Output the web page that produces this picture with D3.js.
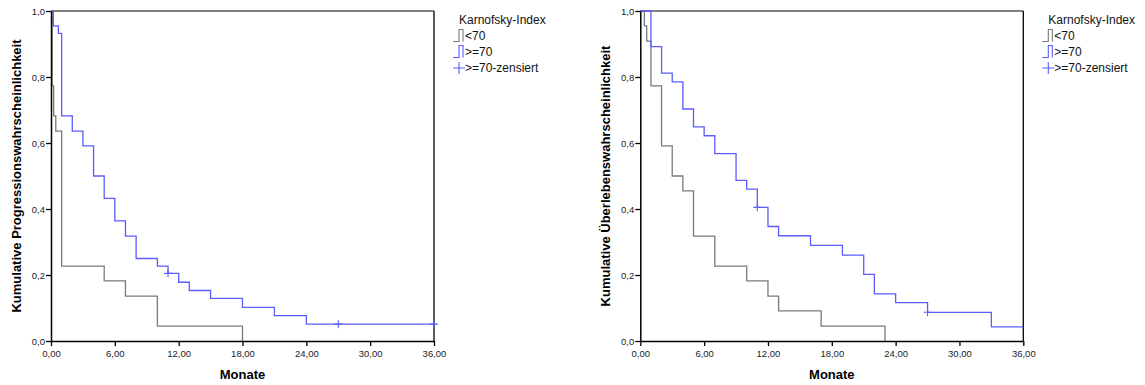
<!DOCTYPE html>
<html>
<head>
<meta charset="utf-8">
<script src="https://cdn.jsdelivr.net/npm/d3@7"></script>
<style>
  html, body { margin: 0; padding: 0; background: #fff; }
  svg { display: block; font-family: "Liberation Sans", Arial, Helvetica, sans-serif; }
</style>
</head>
<body>
<svg id="chart" width="1145" height="385"></svg>
<script>
// Kaplan-Meier step curves: event times (months) and survival after each step.
const progLowTimes   = [0.1, 0.25, 0.45, 1.0, 5.0, 7.0, 10.0, 18.0];
const progLowValues  = [0.773, 0.682, 0.636, 0.227, 0.182, 0.136, 0.045, 0.0];
const progLowEnd     = 18.0;

const progHighTimes  = [0.22, 0.69, 1.0, 2.0, 3.0, 4.0, 5.0, 6.0, 7.0, 8.0, 10.0, 11.0, 12.0, 13.0, 15.0, 18.0, 21.0, 24.0];
const progHighValues = [0.955, 0.932, 0.682, 0.636, 0.591, 0.5, 0.432, 0.364, 0.318, 0.25, 0.227, 0.205, 0.178, 0.153, 0.129, 0.102, 0.077, 0.051];
const progHighEnd    = 36.0;
const progCensorTimes  = [11.0, 27.0, 36.0];
const progCensorValues = [0.205, 0.051, 0.051];

const survLowTimes   = [0.38, 0.6, 1.0, 2.0, 3.0, 4.0, 5.0, 7.0, 10.0, 12.0, 13.0, 17.0, 23.0];
const survLowValues  = [0.955, 0.909, 0.773, 0.591, 0.5, 0.455, 0.318, 0.227, 0.182, 0.136, 0.091, 0.045, 0.0];
const survLowEnd     = 23.0;

const survHighTimes  = [1.0, 2.0, 3.0, 4.0, 5.0, 6.0, 7.0, 9.0, 10.0, 11.0, 12.0, 13.0, 16.0, 19.0, 21.0, 22.0, 24.0, 27.0, 33.0];
const survHighValues = [0.892, 0.812, 0.785, 0.703, 0.649, 0.622, 0.568, 0.487, 0.46, 0.405, 0.347, 0.319, 0.29, 0.26, 0.202, 0.143, 0.116, 0.087, 0.043];
const survHighEnd    = 36.0;
const survCensorTimes  = [11.0, 27.0];
const survCensorValues = [0.405, 0.087];

const xTicks = [0, 6, 12, 18, 24, 30, 36];
const yTicks = [0, 0.2, 0.4, 0.6, 0.8, 1.0];
const legendTitle = "Karnofsky-Index";
const legendLabels = ["<70", ">=70", ">=70-zensiert"];
const xTitle = "Monate";
const yTitles = ["Kumulative Progressionswahrscheinlichkeit", "Kumulative Überlebenswahrscheinlichkeit"];

const COLOR_LOW = "#7a7a7a";
const COLOR_HIGH = "#5c5cff";

const svg = d3.select("#chart");
const fmtX = d => d3.format(".2f")(d).replace(".", ",");
const fmtY = d => d3.format(".1f")(d).replace(".", ",");

function stepPoints(times, values, end) {
  const pts = [[0, 1]];
  let cur = 1;
  times.forEach((t, i) => { pts.push([t, cur]); cur = values[i]; pts.push([t, cur]); });
  if (end > times[times.length - 1]) pts.push([end, cur]);
  return pts;
}

function panel(opts) {
  const g = svg.append("g").attr("transform", `translate(${opts.left},0)`);
  const w = 383, top = 11, bottom = 341;
  const x = d3.scaleLinear().domain([0, 36]).range([0, w]);
  const y = d3.scaleLinear().domain([0, 1]).range([bottom, top]);

  // frame: grey top edge, black right edge
  g.append("line").attr("x1", 0).attr("x2", w).attr("y1", top).attr("y2", top)
    .attr("stroke", "#808080").attr("stroke-width", 2);
  g.append("line").attr("x1", w).attr("x2", w).attr("y1", top).attr("y2", bottom)
    .attr("stroke", "#000").attr("stroke-width", 1.3);

  const line = d3.line().x(d => x(d[0])).y(d => y(d[1]));
  g.append("path").datum(stepPoints(opts.lowT, opts.lowV, opts.lowEnd))
    .attr("d", line).attr("fill", "none").attr("stroke", COLOR_LOW).attr("stroke-width", 1.3);
  g.append("path").datum(stepPoints(opts.highT, opts.highV, opts.highEnd))
    .attr("d", line).attr("fill", "none").attr("stroke", COLOR_HIGH).attr("stroke-width", 1.3);

  // censored observations
  const cz = opts.censT.map((t, i) => [t, opts.censV[i]]);
  g.selectAll(".cens").data(cz).enter().append("path")
    .attr("d", d => `M${x(d[0]) - 4},${y(d[1])}H${x(d[0]) + 4}M${x(d[0])},${y(d[1]) - 4}V${y(d[1]) + 4}`)
    .attr("stroke", COLOR_HIGH).attr("stroke-width", 1.1).attr("fill", "none");

  // axes
  const xa = g.append("g").attr("transform", `translate(0,${bottom})`)
    .call(d3.axisBottom(x).tickValues(xTicks).tickFormat(fmtX).tickSize(5).tickSizeOuter(0));
  const ya = g.append("g")
    .call(d3.axisLeft(y).tickValues(yTicks).tickFormat(fmtY).tickSize(5).tickSizeOuter(0));
  [xa, ya].forEach(a => {
    a.select(".domain").attr("stroke", "#000").attr("stroke-width", 1.5);
    a.selectAll(".tick line").attr("stroke", "#000").attr("stroke-width", 1.3);
    a.selectAll(".tick text").attr("fill", "#222").style("font-size", "9.5px")
      .style("font-family", "'Liberation Sans', Arial, sans-serif");
  });
  xa.selectAll(".tick text").attr("dy", "0.71em").attr("y", 9);
  ya.selectAll(".tick text").attr("x", -6);

  g.append("text").attr("x", w / 2).attr("y", 379).attr("text-anchor", "middle")
    .style("font-size", "13px").style("font-weight", "bold").text(xTitle);
  g.append("text").attr("transform", `translate(${opts.yTitleX},176) rotate(-90)`)
    .attr("text-anchor", "middle").style("font-size", "13px").style("font-weight", "bold")
    .text(opts.yTitle);

  // legend
  const lg = g.append("g").attr("transform", `translate(${w + 25},0)`);
  lg.append("text").attr("x", 0).attr("y", 24).style("font-size", "12px").attr("fill", "#111").text(legendTitle);
  const icon = (yb, color) => lg.append("path")
    .attr("d", `M-6,${yb}H0V${yb - 12}H4V${yb}`).attr("fill", "none")
    .attr("stroke", color).attr("stroke-width", 1.1);
  icon(41.5, COLOR_LOW);
  icon(57.5, COLOR_HIGH);
  lg.append("path").attr("d", "M-6,68H6M0,62V74").attr("stroke", COLOR_HIGH).attr("stroke-width", 1.1);
  lg.append("text").attr("x", 6).attr("y", 40).style("font-size", "12px").attr("fill", "#111").text(legendLabels[0]);
  lg.append("text").attr("x", 6).attr("y", 56).style("font-size", "12px").attr("fill", "#111").text(legendLabels[1]);
  lg.append("text").attr("x", 6).attr("y", 72).style("font-size", "12px").attr("fill", "#111").text(legendLabels[2]);
}

panel({
  left: 51, yTitleX: -30, yTitle: yTitles[0],
  lowT: progLowTimes, lowV: progLowValues, lowEnd: progLowEnd,
  highT: progHighTimes, highV: progHighValues, highEnd: progHighEnd,
  censT: progCensorTimes, censV: progCensorValues
});
panel({
  left: 640.3, yTitleX: -30, yTitle: yTitles[1],
  lowT: survLowTimes, lowV: survLowValues, lowEnd: survLowEnd,
  highT: survHighTimes, highV: survHighValues, highEnd: survHighEnd,
  censT: survCensorTimes, censV: survCensorValues
});
</script>
</body>
</html>
